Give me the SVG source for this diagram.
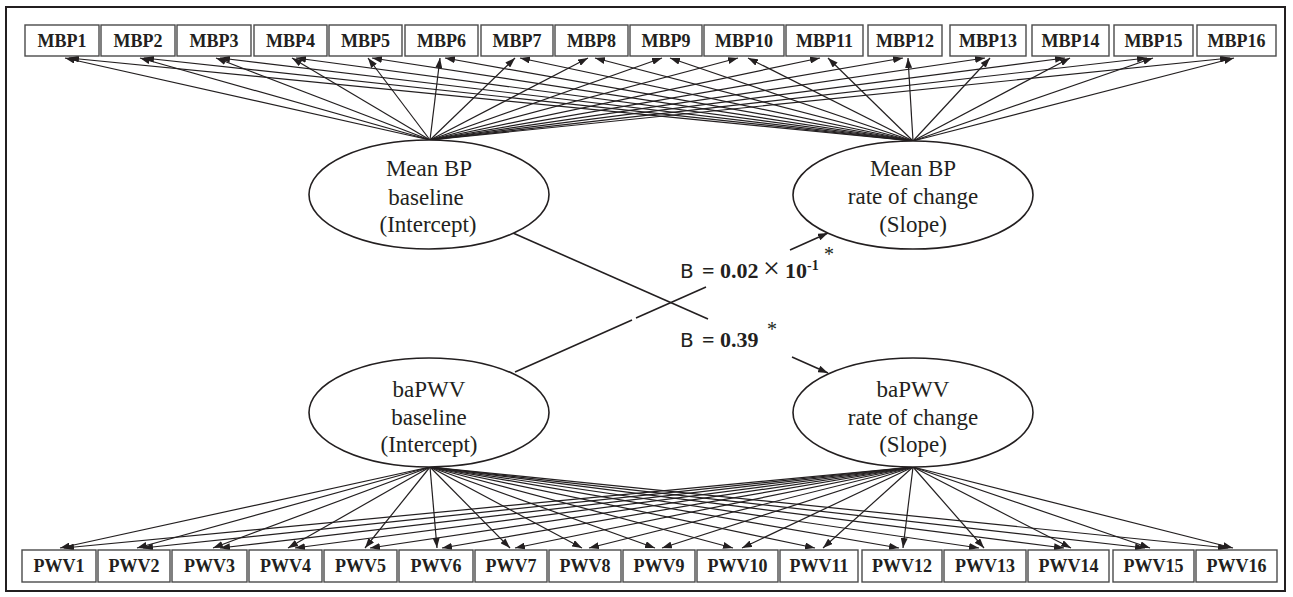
<svg xmlns="http://www.w3.org/2000/svg" width="1293" height="597" viewBox="0 0 1293 597">
<style>
.frame{fill:#fff;stroke:#231f20;stroke-width:2}
.box{fill:#fff;stroke:#4a4a4a;stroke-width:1.4}
.bt{font-family:"Liberation Serif",serif;font-weight:bold;font-size:18px;fill:#231f20;text-anchor:middle}
.el{fill:#fff;stroke:#231f20;stroke-width:1.6}
.et{font-family:"Liberation Serif",serif;font-size:23px;fill:#231f20;text-anchor:middle}
.c line{stroke:#231f20;stroke-width:1.2;fill:none}
.c .a{marker-end:url(#ah)}
.r{stroke:#231f20;stroke-width:1.6;fill:none}
.lb{font-family:"Liberation Serif",serif;font-weight:bold;font-size:22px;fill:#231f20}
.sans{font-family:"DejaVu Sans",sans-serif;font-weight:normal;font-size:20px}
</style>
<defs>
<marker id="ah" markerUnits="userSpaceOnUse" markerWidth="10" markerHeight="7" refX="10" refY="3.5" orient="auto">
<path d="M0,0 L10,3.5 L0,7 z" fill="#231f20"/>
</marker>
</defs>
<rect class="frame" x="6" y="7" width="1279" height="584"/>

<g id="connectors" class="c">
<line class="a" x1="430" y1="140" x2="65" y2="58"/>
<line class="a" x1="430" y1="140" x2="140" y2="58"/>
<line class="a" x1="430" y1="140" x2="216" y2="58"/>
<line class="a" x1="430" y1="140" x2="292" y2="58"/>
<line class="a" x1="430" y1="140" x2="368" y2="58"/>
<line class="a" x1="430" y1="140" x2="440" y2="58"/>
<line class="a" x1="430" y1="140" x2="515" y2="58"/>
<line class="a" x1="430" y1="140" x2="588" y2="58"/>
<line class="a" x1="430" y1="140" x2="662" y2="58"/>
<line class="a" x1="430" y1="140" x2="738" y2="58"/>
<line class="a" x1="430" y1="140" x2="820" y2="58"/>
<line class="a" x1="430" y1="140" x2="903" y2="58"/>
<line class="a" x1="430" y1="140" x2="985" y2="58"/>
<line class="a" x1="430" y1="140" x2="1065" y2="58"/>
<line class="a" x1="430" y1="140" x2="1147" y2="58"/>
<line class="a" x1="430" y1="140" x2="1230" y2="58"/>
<line class="a" x1="913" y1="141" x2="69" y2="58"/>
<line class="a" x1="913" y1="141" x2="144" y2="58"/>
<line class="a" x1="913" y1="141" x2="220" y2="58"/>
<line class="a" x1="913" y1="141" x2="296" y2="58"/>
<line class="a" x1="913" y1="141" x2="372" y2="58"/>
<line class="a" x1="913" y1="141" x2="445" y2="58"/>
<line class="a" x1="913" y1="141" x2="520" y2="58"/>
<line class="a" x1="913" y1="141" x2="595" y2="58"/>
<line class="a" x1="913" y1="141" x2="670" y2="58"/>
<line class="a" x1="913" y1="141" x2="748" y2="58"/>
<line class="a" x1="913" y1="141" x2="828" y2="58"/>
<line class="a" x1="913" y1="141" x2="908" y2="58"/>
<line class="a" x1="913" y1="141" x2="990" y2="58"/>
<line class="a" x1="913" y1="141" x2="1070" y2="58"/>
<line class="a" x1="913" y1="141" x2="1153" y2="58"/>
<line class="a" x1="913" y1="141" x2="1234" y2="58"/>
<line class="a" x1="430" y1="467" x2="60" y2="548"/>
<line class="a" x1="430" y1="467" x2="137" y2="548"/>
<line class="a" x1="430" y1="467" x2="213" y2="548"/>
<line class="a" x1="430" y1="467" x2="288" y2="548"/>
<line class="a" x1="430" y1="467" x2="365" y2="548"/>
<line class="a" x1="430" y1="467" x2="437" y2="548"/>
<line class="a" x1="430" y1="467" x2="510" y2="548"/>
<line class="a" x1="430" y1="467" x2="582" y2="548"/>
<line class="a" x1="430" y1="467" x2="655" y2="548"/>
<line class="a" x1="430" y1="467" x2="733" y2="548"/>
<line class="a" x1="430" y1="467" x2="815" y2="548"/>
<line class="a" x1="430" y1="467" x2="899" y2="548"/>
<line class="a" x1="430" y1="467" x2="979" y2="548"/>
<line class="a" x1="430" y1="467" x2="1064" y2="548"/>
<line class="a" x1="430" y1="467" x2="1145" y2="548"/>
<line class="a" x1="430" y1="467" x2="1228" y2="548"/>
<line class="a" x1="913" y1="467" x2="64" y2="548"/>
<line class="a" x1="913" y1="467" x2="143" y2="548"/>
<line class="a" x1="913" y1="467" x2="220" y2="548"/>
<line class="a" x1="913" y1="467" x2="295" y2="548"/>
<line class="a" x1="913" y1="467" x2="370" y2="548"/>
<line class="a" x1="913" y1="467" x2="442" y2="548"/>
<line class="a" x1="913" y1="467" x2="515" y2="548"/>
<line class="a" x1="913" y1="467" x2="589" y2="548"/>
<line class="a" x1="913" y1="467" x2="662" y2="548"/>
<line class="a" x1="913" y1="467" x2="742" y2="548"/>
<line class="a" x1="913" y1="467" x2="823" y2="548"/>
<line class="a" x1="913" y1="467" x2="903" y2="548"/>
<line class="a" x1="913" y1="467" x2="984" y2="548"/>
<line class="a" x1="913" y1="467" x2="1071" y2="548"/>
<line class="a" x1="913" y1="467" x2="1150" y2="548"/>
<line class="a" x1="913" y1="467" x2="1233" y2="548"/>
</g>

<g id="regressions">
<line class="r" x1="513" y1="233" x2="708" y2="319"/>
<line class="r" x1="792" y1="357" x2="828" y2="373" marker-end="url(#ah)"/>
<line class="r" x1="515" y1="372" x2="632" y2="320"/>
<line class="r" x1="636" y1="318" x2="706" y2="287"/>
<line class="r" x1="790" y1="250" x2="828" y2="233" marker-end="url(#ah)"/>
</g>

<g id="mbp-boxes">
<g id="MBP1"><rect class="box" x="25" y="25" width="74" height="31"/><text class="bt" x="62" y="47">MBP1</text></g>
<g id="MBP2"><rect class="box" x="101" y="25" width="74" height="31"/><text class="bt" x="138" y="47">MBP2</text></g>
<g id="MBP3"><rect class="box" x="177" y="25" width="74" height="31"/><text class="bt" x="214" y="47">MBP3</text></g>
<g id="MBP4"><rect class="box" x="254" y="25" width="73" height="31"/><text class="bt" x="290.5" y="47">MBP4</text></g>
<g id="MBP5"><rect class="box" x="329" y="25" width="73" height="31"/><text class="bt" x="365.5" y="47">MBP5</text></g>
<g id="MBP6"><rect class="box" x="405" y="25" width="73" height="31"/><text class="bt" x="441.5" y="47">MBP6</text></g>
<g id="MBP7"><rect class="box" x="481" y="25" width="72" height="31"/><text class="bt" x="517" y="47">MBP7</text></g>
<g id="MBP8"><rect class="box" x="555" y="25" width="73" height="31"/><text class="bt" x="591.5" y="47">MBP8</text></g>
<g id="MBP9"><rect class="box" x="630" y="25" width="72" height="31"/><text class="bt" x="666" y="47">MBP9</text></g>
<g id="MBP10"><rect class="box" x="704" y="25" width="80" height="31"/><text class="bt" x="744" y="47">MBP10</text></g>
<g id="MBP11"><rect class="box" x="786" y="25" width="77" height="31"/><text class="bt" x="824.5" y="47">MBP11</text></g>
<g id="MBP12"><rect class="box" x="868" y="25" width="74" height="31"/><text class="bt" x="905" y="47">MBP12</text></g>
<g id="MBP13"><rect class="box" x="950" y="25" width="76" height="31"/><text class="bt" x="988" y="47">MBP13</text></g>
<g id="MBP14"><rect class="box" x="1032" y="25" width="77" height="31"/><text class="bt" x="1070.5" y="47">MBP14</text></g>
<g id="MBP15"><rect class="box" x="1114" y="25" width="79" height="31"/><text class="bt" x="1153.5" y="47">MBP15</text></g>
<g id="MBP16"><rect class="box" x="1197" y="25" width="79" height="31"/><text class="bt" x="1236.5" y="47">MBP16</text></g>
</g>

<g id="pwv-boxes">
<g id="PWV1"><rect class="box" x="22" y="550" width="74" height="32"/><text class="bt" x="59" y="572">PWV1</text></g>
<g id="PWV2"><rect class="box" x="98" y="550" width="72" height="32"/><text class="bt" x="134" y="572">PWV2</text></g>
<g id="PWV3"><rect class="box" x="172" y="550" width="75" height="32"/><text class="bt" x="209.5" y="572">PWV3</text></g>
<g id="PWV4"><rect class="box" x="249" y="550" width="73" height="32"/><text class="bt" x="285.5" y="572">PWV4</text></g>
<g id="PWV5"><rect class="box" x="324" y="550" width="73" height="32"/><text class="bt" x="360.5" y="572">PWV5</text></g>
<g id="PWV6"><rect class="box" x="399" y="550" width="74" height="32"/><text class="bt" x="436" y="572">PWV6</text></g>
<g id="PWV7"><rect class="box" x="475" y="550" width="72" height="32"/><text class="bt" x="511" y="572">PWV7</text></g>
<g id="PWV8"><rect class="box" x="549" y="550" width="72" height="32"/><text class="bt" x="585" y="572">PWV8</text></g>
<g id="PWV9"><rect class="box" x="623" y="550" width="72" height="32"/><text class="bt" x="659" y="572">PWV9</text></g>
<g id="PWV10"><rect class="box" x="697" y="550" width="81" height="32"/><text class="bt" x="737.5" y="572">PWV10</text></g>
<g id="PWV11"><rect class="box" x="780" y="550" width="78" height="32"/><text class="bt" x="819" y="572">PWV11</text></g>
<g id="PWV12"><rect class="box" x="862" y="550" width="80" height="32"/><text class="bt" x="902" y="572">PWV12</text></g>
<g id="PWV13"><rect class="box" x="944" y="550" width="82" height="32"/><text class="bt" x="985" y="572">PWV13</text></g>
<g id="PWV14"><rect class="box" x="1028" y="550" width="81" height="32"/><text class="bt" x="1068.5" y="572">PWV14</text></g>
<g id="PWV15"><rect class="box" x="1113" y="550" width="81" height="32"/><text class="bt" x="1153.5" y="572">PWV15</text></g>
<g id="PWV16"><rect class="box" x="1196" y="550" width="81" height="32"/><text class="bt" x="1236.5" y="572">PWV16</text></g>
</g>

<g id="meanbp-intercept">
<ellipse class="el" cx="429" cy="194.5" rx="120" ry="54.5"/>
<text class="et" x="429" y="176">Mean BP</text>
<text class="et" x="426" y="205">baseline</text>
<text class="et" x="428" y="232">(Intercept)</text>
</g>
<g id="meanbp-slope">
<ellipse class="el" cx="913" cy="195" rx="120" ry="54"/>
<text class="et" x="913" y="176">Mean BP</text>
<text class="et" x="913" y="204">rate of change</text>
<text class="et" x="913" y="232">(Slope)</text>
</g>
<g id="bapwv-intercept">
<ellipse class="el" cx="429" cy="412.5" rx="120" ry="54.5"/>
<text class="et" x="429" y="397">baPWV</text>
<text class="et" x="429" y="425">baseline</text>
<text class="et" x="429" y="452">(Intercept)</text>
</g>
<g id="bapwv-slope">
<ellipse class="el" cx="913" cy="412.5" rx="120" ry="54.5"/>
<text class="et" x="913" y="397">baPWV</text>
<text class="et" x="913" y="425">rate of change</text>
<text class="et" x="913" y="452">(Slope)</text>
</g>

<g id="labels">
<text class="lb" y="278"><tspan class="sans" x="680">B</tspan><tspan x="702">=</tspan><tspan x="720">0.02</tspan><tspan x="763" font-weight="normal" font-size="30">×</tspan><tspan x="785">10</tspan><tspan x="807" y="270" font-size="14">-1</tspan><tspan x="824" y="261" font-weight="normal" font-size="20">*</tspan></text>
<text class="lb" y="347"><tspan class="sans" x="680">B</tspan><tspan x="702">=</tspan><tspan x="720">0.39</tspan><tspan x="767" y="336" font-weight="normal" font-size="20">*</tspan></text>
</g>
</svg>
